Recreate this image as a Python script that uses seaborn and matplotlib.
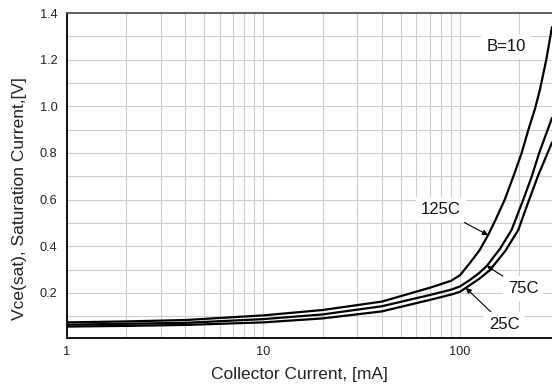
import numpy as np
import pandas as pd
import matplotlib
matplotlib.use("Agg")
import matplotlib.pyplot as plt
import seaborn as sns
from matplotlib.ticker import FixedLocator, FixedFormatter, MultipleLocator, NullFormatter

# Vce(sat) vs collector current, B=10
ic_125 = [1, 2, 4, 10, 20, 40, 70, 90, 100, 112, 126, 139, 151, 169, 187, 206, 223, 241, 255, 275, 294]
vce_125 = [0.074, 0.078, 0.084, 0.104, 0.127, 0.163, 0.222, 0.252, 0.276, 0.327, 0.384, 0.448,
           0.51, 0.60, 0.70, 0.80, 0.90, 0.99, 1.07, 1.20, 1.34]

ic_75 = [1, 2, 4, 10, 20, 40, 70, 90, 100, 112, 125, 137, 160, 183, 210, 232, 253, 274, 294]
vce_75 = [0.064, 0.068, 0.072, 0.088, 0.108, 0.143, 0.191, 0.214, 0.228, 0.255, 0.285, 0.316,
          0.39, 0.47, 0.60, 0.70, 0.80, 0.88, 0.95]

ic_25 = [1, 2, 4, 10, 20, 40, 70, 90, 100, 107, 125, 142, 170, 198, 225, 249, 276, 294]
vce_25 = [0.056, 0.059, 0.063, 0.074, 0.091, 0.121, 0.170, 0.193, 0.205, 0.222, 0.26, 0.298,
          0.38, 0.47, 0.60, 0.70, 0.79, 0.845]

x_ticks = [1, 10, 100]
x_tick_labels = ["1", "10", "100"]
y_ticks = [0.2, 0.4, 0.6, 0.8, 1.0, 1.2, 1.4]

series = {"125C": (ic_125, vce_125), "75C": (ic_75, vce_75), "25C": (ic_25, vce_25)}
frames = []
for name, (ic, vce) in series.items():
    frames.append(pd.DataFrame({"Ic": ic, "Vce": vce, "Temp": name}))
df = pd.concat(frames, ignore_index=True)

sns.set_style("white")
plt.rcParams["font.family"] = ["Liberation Sans", "DejaVu Sans"]

fig = plt.figure(figsize=(5.52, 3.9), dpi=100)
ax = fig.add_axes([67 / 552, 52 / 390, 485 / 552, 325 / 390])

sns.lineplot(data=df, x="Ic", y="Vce", hue="Temp", palette=["black"] * 3,
             linewidth=1.6, legend=False, sort=False, estimator=None, ax=ax)

ax.set_xscale("log")
ax.set_xlim(1, 294)
ax.set_ylim(0.007, 1.4)

# ticks and grid
ax.xaxis.set_major_locator(FixedLocator(x_ticks))
ax.xaxis.set_major_formatter(FixedFormatter(x_tick_labels))
minor_x = [m * 10 ** d for d in range(0, 3) for m in range(2, 10) if m * 10 ** d < 294]
ax.xaxis.set_minor_locator(FixedLocator(minor_x))
ax.xaxis.set_minor_formatter(NullFormatter())
ax.yaxis.set_major_locator(FixedLocator(y_ticks))
ax.yaxis.set_major_formatter(FixedFormatter([f"{v:.1f}" for v in y_ticks]))
ax.yaxis.set_minor_locator(MultipleLocator(0.1))

ax.grid(True, which="both", color="#cccccc", linewidth=0.8)
ax.tick_params(which="major", direction="in", length=5.5, width=0.8, colors="black",
               labelsize=9.2, labelcolor="#222222")
ax.tick_params(which="minor", direction="in", length=3, width=0.8, colors="black")
ax.tick_params(axis="y", pad=7)
ax.tick_params(axis="x", pad=6)

for side in ["left", "bottom"]:
    ax.spines[side].set_color("black")
    ax.spines[side].set_linewidth(1.3)
ax.spines["top"].set_color("#555555")
ax.spines["top"].set_linewidth(1.3)
ax.spines["right"].set_visible(False)

ax.set_xlabel("Collector Current, [mA]", fontsize=12.5, color="#222222")
ax.set_ylabel("Vce(sat), Saturation Current,[V]", fontsize=12.5, color="#222222")
ax.xaxis.set_label_coords(0.48, -0.09)
ax.yaxis.set_label_coords(-0.082, 0.43)

# labels with white boxes
box = dict(boxstyle="square,pad=0.3", fc="white", ec="none")
ax.text(0.905, 0.898, "B=10", transform=ax.transAxes, ha="center", va="center",
        fontsize=12, color="#111111", bbox=box)

def on_curve(ic, vce, x):
    return x, np.interp(np.log10(x), np.log10(ic), vce)

arrow = dict(arrowstyle="-|>", color="black", lw=0.8, mutation_scale=8, shrinkA=0, shrinkB=0)
notes = [("125C", ic_125, vce_125, 139, (0.771, 0.394)),
         ("75C", ic_75, vce_75, 137, (0.940, 0.151)),
         ("25C", ic_25, vce_25, 107, (0.901, 0.0415))]
for label, ic, vce, xpos, txt in notes:
    ax.annotate(label, xy=on_curve(ic, vce, xpos), xycoords="data", xytext=txt,
                textcoords="axes fraction", ha="center", va="center", fontsize=12,
                color="#111111", bbox=box, arrowprops=arrow)

fig.savefig("out.png", dpi=100)
